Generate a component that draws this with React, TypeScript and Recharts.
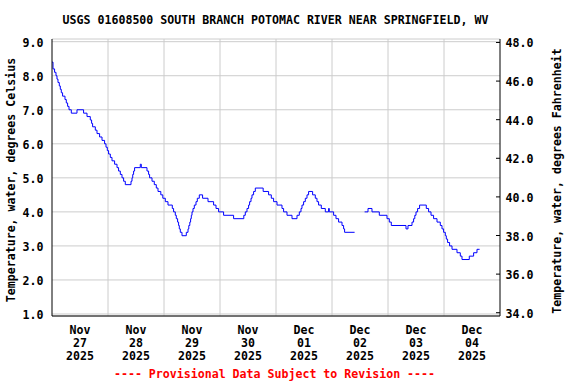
import React from "react"
import { LineChart, Line, XAxis, YAxis, CartesianGrid, ReferenceLine } from "recharts"

const title = "USGS 01608500 SOUTH BRANCH POTOMAC RIVER NEAR SPRINGFIELD, WV"
const leftTitle = "Temperature, water, degrees Celsius"
const rightTitle = "Temperature, water, degrees Fahrenheit"
const footer = "---- Provisional Data Subject to Revision ----"

// hours since 2025-11-27 00:00, value changes (null = gap)
const hours = [
  0, 0.43, 1.11, 1.71, 2.14, 2.57, 3.13, 3.56, 3.99, 4.54, 5.57, 6.13, 6.69, 7.29, 8.27, 10.71,
  13.54, 15.0, 16.41, 16.97, 17.4, 18.56, 19.29, 20.4, 21.43, 22.54, 23.14, 23.7, 24.26, 24.99,
  25.71, 26.83, 27.86, 28.54, 29.27, 30.0, 30.69, 31.41, 33.86, 34.29, 34.6, 34.97, 35.4, 37.84,
  38.27, 40.71, 41.4, 41.83, 42.86, 43.84, 44.7, 45.43, 46.63, 47.49, 48.56, 49.71, 51.56, 52.11,
  52.84, 53.27, 53.83, 54.26, 54.56, 54.99, 55.71, 57.56, 58.29, 58.63, 59.06, 59.4, 59.7, 60.0,
  60.43, 60.99, 61.71, 62.27, 63.13, 64.54, 66.86, 69.26, 70.29, 71.4, 73.54, 77.83, 82.2, 82.84,
  83.57, 84.26, 84.69, 85.29, 85.71, 86.4, 87.13, 90.5, 92.83, 93.99, 94.97, 96.43, 98.57, 99.26,
  100.71, 102.86, 105.0, 105.99, 106.71, 107.14, 107.83, 108.56, 109.29, 109.97, 111.69, 112.84,
  113.57, 114.26, 115.41, 117.13, 118.54, 118.84, 120.69, 121.71, 122.83, 124.29, 124.97, 125.4,
  129.69, 131.5, 133.97, 135.43, 137.14, 140.27, 143.57, 144.56, 145.41, 151.71, 152.57, 154.29,
  154.97, 155.49, 156.0, 156.69, 157.54, 160.41, 161.4, 162.43, 163.54, 165.0, 166.41, 167.14,
  167.83, 168.56, 168.99, 169.54, 170.4, 171.43, 173.57, 174.99, 175.71, 178.84, 180.69, 182.14,
  183.26,
]
const tempC = [
  8.4, 8.2, 8.1, 8.0, 7.9, 7.8, 7.7, 7.6, 7.5, 7.4, 7.3, 7.2, 7.1, 7.0, 6.9, 7.0,
  6.9, 6.8, 6.7, 6.6, 6.5, 6.4, 6.3, 6.2, 6.1, 6.0, 5.9, 5.8, 5.7, 5.6,
  5.5, 5.4, 5.3, 5.2, 5.1, 5.0, 4.9, 4.8, 4.9, 5.0, 5.1, 5.2, 5.3, 5.4,
  5.3, 5.2, 5.1, 5.0, 4.9, 4.8, 4.7, 4.6, 4.5, 4.4, 4.3, 4.2, 4.1, 4.0,
  3.9, 3.8, 3.7, 3.6, 3.5, 3.4, 3.3, 3.4, 3.5, 3.6, 3.7, 3.8, 3.9, 4.0,
  4.1, 4.2, 4.3, 4.4, 4.5, 4.4, 4.3, 4.2, 4.1, 4.0, 3.9, 3.8, 3.9, 4.0,
  4.1, 4.2, 4.3, 4.4, 4.5, 4.6, 4.7, 4.6, 4.5, 4.4, 4.3, 4.2, 4.1, 4.0,
  3.9, 3.8, 3.9, 4.0, 4.1, 4.2, 4.3, 4.4, 4.5, 4.6, 4.5, 4.4,
  4.3, 4.2, 4.1, 4.0, 4.1, 4.0, 3.9, 3.8, 3.7, 3.6, 3.5, 3.4,
  3.4, null, 4.0, 4.1, 4.0, 3.9, 3.8, 3.7, 3.6, 3.5, 3.6, 3.7,
  3.8, 3.9, 4.0, 4.1, 4.2, 4.1, 4.0, 3.9, 3.8, 3.7, 3.6, 3.5,
  3.4, 3.3, 3.2, 3.1, 3.0, 2.9, 2.8, 2.7, 2.6, 2.7, 2.8, 2.9,
  2.9,
]

const celsiusTicks = [1, 2, 3, 4, 5, 6, 7, 8, 9]
const fahrenheitTicks = [34, 36, 38, 40, 42, 44, 46, 48]
const labelHours = [12, 36, 60, 84, 108, 132, 156, 180]
const midnightHours = [24, 48, 72, 96, 120, 144, 168]
const tickMonths = ["Nov", "Nov", "Nov", "Nov", "Dec", "Dec", "Dec", "Dec"]
const tickDays = ["27", "28", "29", "30", "01", "02", "03", "04"]
const tickYears = ["2025", "2025", "2025", "2025", "2025", "2025", "2025", "2025"]

const data = hours.map((h, i) => ({ h, c: tempC[i] }))

const font = {
  fontFamily: "'DejaVu Sans Mono', monospace",
  fontWeight: "bold" as const,
  fontSize: 11.6,
}

const DateTick = (props: any) => {
  const { x, y, payload } = props
  const i = labelHours.indexOf(payload.value)
  return (
    <g style={font} fill="#000">
      <text x={x} y={y + 18} textAnchor="middle">{tickMonths[i]}</text>
      <text x={x} y={y + 31} textAnchor="middle">{tickDays[i]}</text>
      <text x={x} y={y + 44} textAnchor="middle">{tickYears[i]}</text>
    </g>
  )
}

const CelsiusTick = (props: any) => {
  const { x, y, payload } = props
  return (
    <text x={x - 8.5} y={y + 5.5} textAnchor="end" style={font} fill="#000">
      {payload.value.toFixed(1)}
    </text>
  )
}

const FahrenheitTick = (props: any) => {
  const { x, y, payload } = props
  return (
    <g>
      <line x1={x - 4} x2={x} y1={y} y2={y} stroke="#000" />
      <text x={x + 5.5} y={y + 5} textAnchor="start" style={font} fill="#000">
        {payload.value.toFixed(1)}
      </text>
    </g>
  )
}

export default function App() {
  return (
    <div style={{ position: "absolute", left: 0, top: 0, width: 576, height: 384, background: "#fff" }}>
      <LineChart width={576} height={384} data={data} margin={{ top: 39, right: 0, bottom: 0, left: 0 }}>
        <CartesianGrid vertical={false} stroke="#cccccc" />
        {midnightHours.map((h) => (
          <ReferenceLine key={h} x={h} stroke="#cccccc" />
        ))}
        <XAxis
          dataKey="h"
          type="number"
          domain={[0, 192]}
          ticks={labelHours}
          interval={0}
          height={68}
          tickLine={false}
          tickSize={0}
          tickMargin={0}
          axisLine={{ stroke: "#000" }}
          tick={<DateTick />}
        />
        <XAxis
          xAxisId="top"
          orientation="top"
          type="number"
          domain={[0, 192]}
          height={0}
          tick={false}
          tickLine={false}
          axisLine={{ stroke: "#000" }}
        />
        <YAxis
          type="number"
          domain={[0.941, 9.079]}
          allowDataOverflow
          ticks={celsiusTicks}
          interval={0}
          width={52}
          tickLine={false}
          tickSize={0}
          tickMargin={0}
          axisLine={{ stroke: "#000" }}
          tick={<CelsiusTick />}
        />
        <YAxis
          yAxisId="f"
          orientation="right"
          type="number"
          domain={[33.83, 48.18]}
          allowDataOverflow
          ticks={fahrenheitTicks}
          interval={0}
          width={76}
          tickLine={false}
          tickSize={0}
          tickMargin={0}
          axisLine={{ stroke: "#000" }}
          tick={<FahrenheitTick />}
        />
        <Line
          dataKey="c"
          type="stepAfter"
          stroke="#0000ff"
          strokeWidth={1}
          dot={false}
          connectNulls={false}
          isAnimationActive={false}
        />
      </LineChart>
      <svg width={576} height={384} style={{ position: "absolute", left: 0, top: 0, pointerEvents: "none" }}>
        <g style={font}>
          <text x={275.5} y={24} textAnchor="middle" fill="#000">{title}</text>
          <text x={15} y={180} textAnchor="middle" fill="#000" transform="rotate(-90 15 180)">{leftTitle}</text>
          <text x={561} y={181} textAnchor="middle" fill="#000" transform="rotate(-90 561 181)">{rightTitle}</text>
          <text x={274.5} y={378} textAnchor="middle" fill="#ff0000">{footer}</text>
        </g>
      </svg>
    </div>
  )
}
